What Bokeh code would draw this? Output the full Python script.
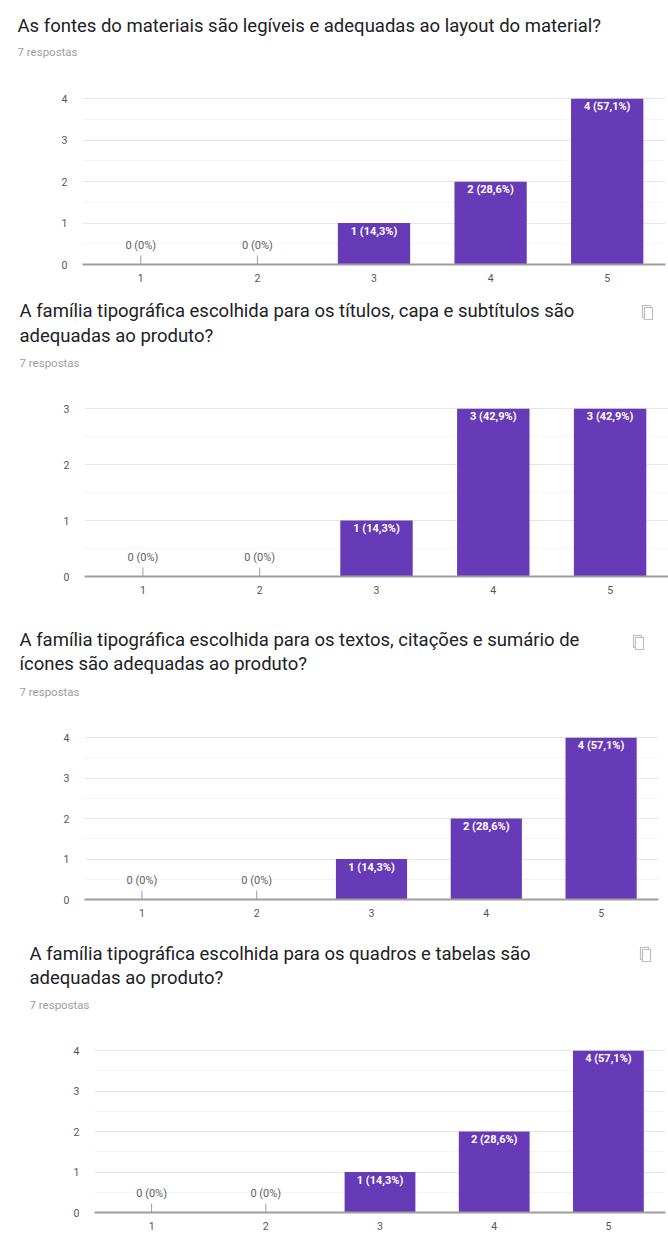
from bokeh.plotting import figure
from bokeh.models import Range1d, FixedTicker, Label, ColumnDataSource, BoxAnnotation
from bokeh.embed import file_html
from bokeh.resources import INLINE
from bokeh.core.properties import value

# ---------------- data ----------------
scores = ["1", "2", "3", "4", "5"]
total_responses = 7
q1_counts = [0, 0, 1, 2, 4]
q2_counts = [0, 0, 1, 3, 3]
q3_counts = [0, 0, 1, 2, 4]
q4_counts = [0, 0, 1, 2, 4]
q1_title = ["As fontes do materiais são legíveis e adequadas ao layout do material?"]
q2_title = ["A família tipográfica escolhida para os títulos, capa e subtítulos são",
            "adequadas ao produto?"]
q3_title = ["A família tipográfica escolhida para os textos, citações e sumário de",
            "ícones são adequadas ao produto?"]
q4_title = ["A família tipográfica escolhida para os quadros e tabelas são",
            "adequadas ao produto?"]
subtitle = "7 respostas"

# ---------------- style ----------------
FONT = "Roboto"
PURPLE = "#673ab7"
W = 668


def pct_label(c, n):
    if c == 0:
        return "0 (0%)"
    return f"{c} ({c / n * 100:.1f}%)".replace(".", ",")


def make_header(title_lines, height, text_x, line_ys, sub_y, icon=None):
    h = figure(width=W, height=height, x_range=(0, 1), y_range=(0, 1),
               x_axis_location=None, y_axis_location=None,
               output_backend="svg", toolbar_location=None,
               min_border=0)
    h.outline_line_color = None
    h.grid.visible = False
    for line, ly in zip(title_lines, line_ys):
        h.add_layout(Label(x=text_x, y=ly, x_units="screen", y_units="screen",
                           text=line, text_baseline="middle",
                           text_font=FONT, text_font_size="18.5px",
                           text_color="#202124"))
    h.add_layout(Label(x=text_x, y=sub_y, x_units="screen", y_units="screen",
                       text=subtitle, text_baseline="middle",
                       text_font=FONT, text_font_size="11.5px",
                       text_color="#9e9e9e"))
    if icon is not None:
        ix, iy = icon
        for dx, dy in ((-2, 2), (0, 0)):
            h.add_layout(BoxAnnotation(
                left=ix - 4 + dx, right=ix + 4 + dx,
                bottom=iy - 6 + dy, top=iy + 6 + dy,
                left_units="screen", right_units="screen",
                bottom_units="screen", top_units="screen",
                fill_color="white", fill_alpha=1.0,
                line_color="#bdbdbd", line_width=1.2, line_alpha=1.0))
    return h


def make_chart(counts, height, b_left, b_right, b_top, b_bottom):
    ymax = max(counts)
    p = figure(width=W, height=height, x_range=scores,
               y_range=Range1d(0, ymax * 1.02),
               output_backend="svg", toolbar_location=None,
               min_border_left=b_left, min_border_right=b_right,
               min_border_top=b_top, min_border_bottom=b_bottom)
    p.outline_line_color = None
    p.background_fill_color = "white"
    p.border_fill_color = "white"

    p.xgrid.grid_line_color = None
    p.ygrid.ticker = FixedTicker(ticks=list(range(0, ymax + 1)),
                                 minor_ticks=[i + 0.5 for i in range(ymax)])
    p.ygrid.grid_line_color = "#e6e6e6"
    p.ygrid.minor_grid_line_color = "#f4f4f4"

    p.yaxis.ticker = FixedTicker(ticks=list(range(0, ymax + 1)))
    p.yaxis.axis_line_color = None
    p.yaxis.major_tick_line_color = None
    p.yaxis.minor_tick_line_color = None
    p.yaxis.major_label_standoff = 9
    p.yaxis.major_label_text_font = FONT
    p.yaxis.major_label_text_font_size = "10.5px"
    p.yaxis.major_label_text_color = "#555555"

    p.xaxis.axis_line_color = "#9e9e9e"
    p.xaxis.axis_line_width = 2
    p.xaxis.major_tick_line_color = None
    p.xaxis.minor_tick_line_color = None
    p.xaxis.major_tick_out = 0
    p.xaxis.major_label_standoff = 9
    p.xaxis.major_label_text_font = FONT
    p.xaxis.major_label_text_font_size = "10.5px"
    p.xaxis.major_label_text_color = "#555555"

    labels = [pct_label(c, total_responses) for c in counts]
    pos = ColumnDataSource(dict(
        x=[s for s, c in zip(scores, counts) if c > 0],
        top=[c for c in counts if c > 0],
        label=[l for l, c in zip(labels, counts) if c > 0]))
    zero = ColumnDataSource(dict(
        x=[s for s, c in zip(scores, counts) if c == 0],
        y=[c for c in counts if c == 0],
        label=[l for l, c in zip(labels, counts) if c == 0]))

    p.vbar(x="x", top="top", width=0.62, source=pos,
           fill_color=PURPLE, line_color=None)
    p.text(x="x", y="top", text="label", source=pos, text_align="center",
           text_baseline="middle", y_offset=8, text_color="white",
           text_font=value(FONT), text_font_size="11px",
           text_font_style="bold")
    p.rect(x="x", y="y", width=1, height=18, width_units="screen",
           height_units="screen", source=zero, fill_color="#9e9e9e",
           line_color=None)
    p.text(x="x", y="y", text="label", source=zero, text_align="center",
           text_baseline="middle", y_offset=-19, text_color="#616161",
           text_font=value(FONT), text_font_size="11px")
    return p


h1 = make_header(q1_title, 80, 17, [55], 29)
c1 = make_chart(q1_counts, 210, 82, 3, 15, 26)
h2 = make_header(q2_title, 90, 19, [70, 45], 18, icon=(648, 67))
c2 = make_chart(q2_counts, 230, 84, 0, 25, 34)
h3 = make_header(q3_title, 95, 19, [66, 42], 14, icon=(639, 62))
c3 = make_chart(q3_counts, 220, 84, 10, 29, 26)
h4 = make_header(q4_title, 95, 29, [67, 43], 16, icon=(646, 65))
c4 = make_chart(q4_counts, 226, 94, 3, 27, 34)

open("out.html", "w").write(file_html([h1, c1, h2, c2, h3, c3, h4, c4], INLINE))
